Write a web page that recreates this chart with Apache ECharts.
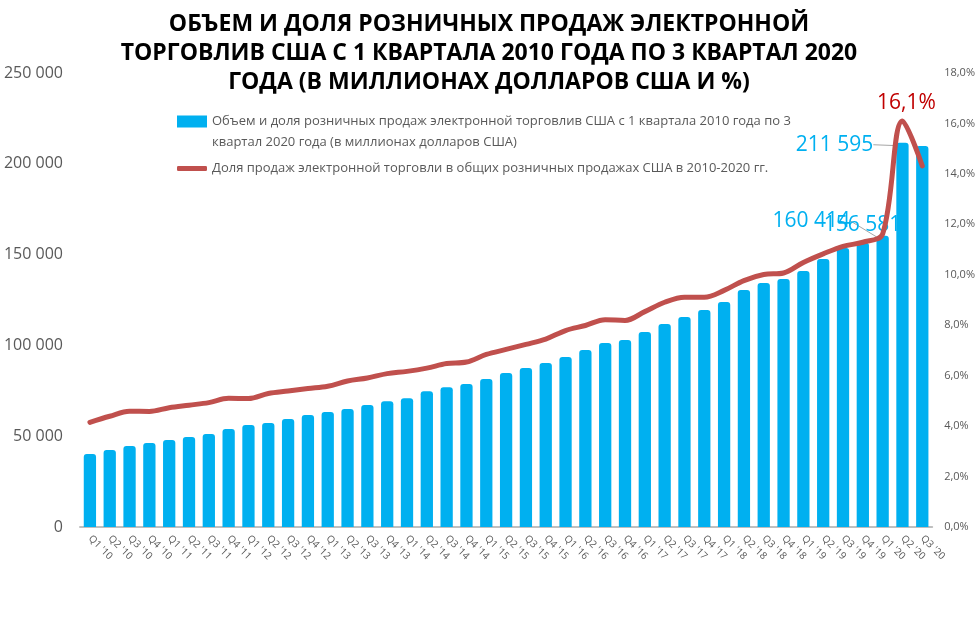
<!DOCTYPE html>
<html><head><meta charset="utf-8">
<script src="https://cdn.jsdelivr.net/npm/echarts@6/dist/echarts.min.js"></script>
<style>html,body{margin:0;padding:0;background:#fff}#c{width:978px;height:639px}</style>
</head><body><div id="c"></div>
<script>
const categories = ["Q1 '10","Q2 '10","Q3 '10","Q4 '10","Q1 '11","Q2 '11","Q3 '11","Q4 '11",
"Q1 '12","Q2 '12","Q3 '12","Q4 '12","Q1 '13","Q2 '13","Q3 '13","Q4 '13",
"Q1 '14","Q2 '14","Q3 '14","Q4 '14","Q1 '15","Q2 '15","Q3 '15","Q4 '15",
"Q1 '16","Q2 '16","Q3 '16","Q4 '16","Q1 '17","Q2 '17","Q3 '17","Q4 '17",
"Q1 '18","Q2 '18","Q3 '18","Q4 '18","Q1 '19","Q2 '19","Q3 '19","Q4 '19",
"Q1 '20","Q2 '20","Q3 '20"];
const salesValues = [40200,42400,44600,46300,47900,49600,51200,54000,
56200,57300,59500,61700,63300,65000,67200,69200,
70900,74800,77000,78700,81500,84800,87600,90300,
93600,97500,101300,103000,107400,111800,115600,119500,
123900,130500,134400,136600,141000,147600,153600,156581,
160414,211595,209800];
const sharePercent = [4.15,4.39,4.59,4.58,4.73,4.83,4.93,5.10,
5.09,5.29,5.39,5.49,5.58,5.79,5.91,6.08,
6.17,6.30,6.48,6.54,6.84,7.04,7.24,7.45,
7.79,7.99,8.22,8.19,8.54,8.91,9.11,9.11,
9.38,9.77,10.01,10.07,10.49,10.83,11.13,11.29,
11.62,16.1,14.32];
const leftAxisTicks = {min:0, max:250000, interval:50000};
const rightAxisTicks = {min:0, max:18, interval:2};
const labelledBars = [39,40,41];
const labelledPoints = [41];
const barName = "Объем и доля розничных продаж электронной торговлив США с 1 квартала 2010 года по 3\nквартал 2020 года (в миллионах долларов США)";
const lineName = "Доля продаж электронной торговли в общих розничных продажах США в 2010-2020 гг.";
const titleText = "ОБЪЕМ И ДОЛЯ РОЗНИЧНЫХ ПРОДАЖ ЭЛЕКТРОННОЙ\nТОРГОВЛИВ США С 1 КВАРТАЛА 2010 ГОДА ПО 3 КВАРТАЛ 2020\nГОДА (В МИЛЛИОНАХ ДОЛЛАРОВ США И %)";

const FONT = "'Open Sans','Noto Sans',sans-serif";
const fmtThousands = v => String(v).replace(/\B(?=(\d{3})+(?!\d))/g, ' ');
const fmtPct = v => v.toFixed(1).replace('.', ',') + '%';

const barData = salesValues.map((v, i) => labelledBars.includes(i) ? {
  value: v,
  label: {show: true},
  labelLine: {show: i !== 39, lineStyle: {color: '#A6A6A6', width: 1}}
} : v);
const lineData = sharePercent.map((v, i) => labelledPoints.includes(i) ? {
  value: v, label: {show: true}
} : v);

const chart = echarts.init(document.getElementById('c'), null, {renderer: 'canvas'});
chart.setOption({
  animation: false,
  backgroundColor: '#ffffff',
  title: {
    text: titleText, left: 'center', top: 5,
    textStyle: {fontFamily: FONT, fontWeight: 'bold', fontSize: 23, lineHeight: 29, color: '#000000'}
  },
  legend: [{
    data: [barName], orient: 'vertical', left: 172, top: 106,
    itemWidth: 30, itemHeight: 33, itemGap: 0,
    icon: 'path://M0,0h30v12h-30z M0,33',
    textStyle: {fontFamily: FONT, fontSize: 13, lineHeight: 21, color: '#595959'}
  }, {
    data: [lineName], orient: 'vertical', left: 172, top: 157,
    itemWidth: 30, itemHeight: 5,
    icon: 'roundRect',
    textStyle: {fontFamily: FONT, fontSize: 13, color: '#595959'}
  }],
  grid: {left: 80, right: 44, top: 73, bottom: 112, containLabel: false},
  xAxis: {
    type: 'category', data: categories, boundaryGap: true,
    axisLine: {lineStyle: {color: '#BFBFBF', width: 2}},
    axisTick: {show: false},
    axisLabel: {rotate: -45, interval: 0, fontFamily: FONT, fontSize: 10, color: '#595959', margin: 10}
  },
  yAxis: [{
    type: 'value', min: leftAxisTicks.min, max: leftAxisTicks.max, interval: leftAxisTicks.interval,
    splitLine: {show: false}, axisLine: {show: false}, axisTick: {show: false},
    axisLabel: {formatter: fmtThousands, fontFamily: FONT, fontSize: 16, color: '#595959', margin: 17}
  }, {
    type: 'value', min: rightAxisTicks.min, max: rightAxisTicks.max, interval: rightAxisTicks.interval,
    position: 'right',
    splitLine: {show: false}, axisLine: {show: false}, axisTick: {show: false},
    axisLabel: {formatter: fmtPct, fontFamily: FONT, fontSize: 11, color: '#595959', margin: 12}
  }],
  series: [{
    name: barName, type: 'bar', data: barData, yAxisIndex: 0,
    barWidth: '62%',
    itemStyle: {color: '#00B0F0', borderRadius: [3, 3, 0, 0]},
    label: {show: false, position: 'top', formatter: p => fmtThousands(p.value),
      fontFamily: FONT, fontSize: 21, color: '#00B0F0'},
    labelLayout: function (p) {
      const r = p.rect, l = p.labelRect;
      if (p.dataIndex === 41) {
        return {dx: (r.x - 23) - (l.x + l.width), dy: (r.y + 2) - (l.y + l.height / 2)};
      }
      if (p.dataIndex === 40) {
        return {dx: (r.x - 104) - l.x, dy: (r.y - 15) - (l.y + l.height / 2)};
      }
      if (p.dataIndex === 39) {
        return {dx: (r.x - 33) - l.x, dy: (r.y - 18) - (l.y + l.height / 2)};
      }
      return {};
    },
    z: 2
  }, {
    name: lineName, type: 'line', data: lineData, yAxisIndex: 1,
    smooth: 0.35, symbol: 'circle', symbolSize: 1, showSymbol: true,
    lineStyle: {color: '#C0504D', width: 5, cap: 'round', join: 'round'},
    itemStyle: {color: '#C0504D'},
    label: {show: false, position: 'top', distance: 7, offset: [4, 0], formatter: p => fmtPct(p.value),
      fontFamily: FONT, fontSize: 21, color: '#C00000'},
    z: 3
  }]
});
</script></body></html>
